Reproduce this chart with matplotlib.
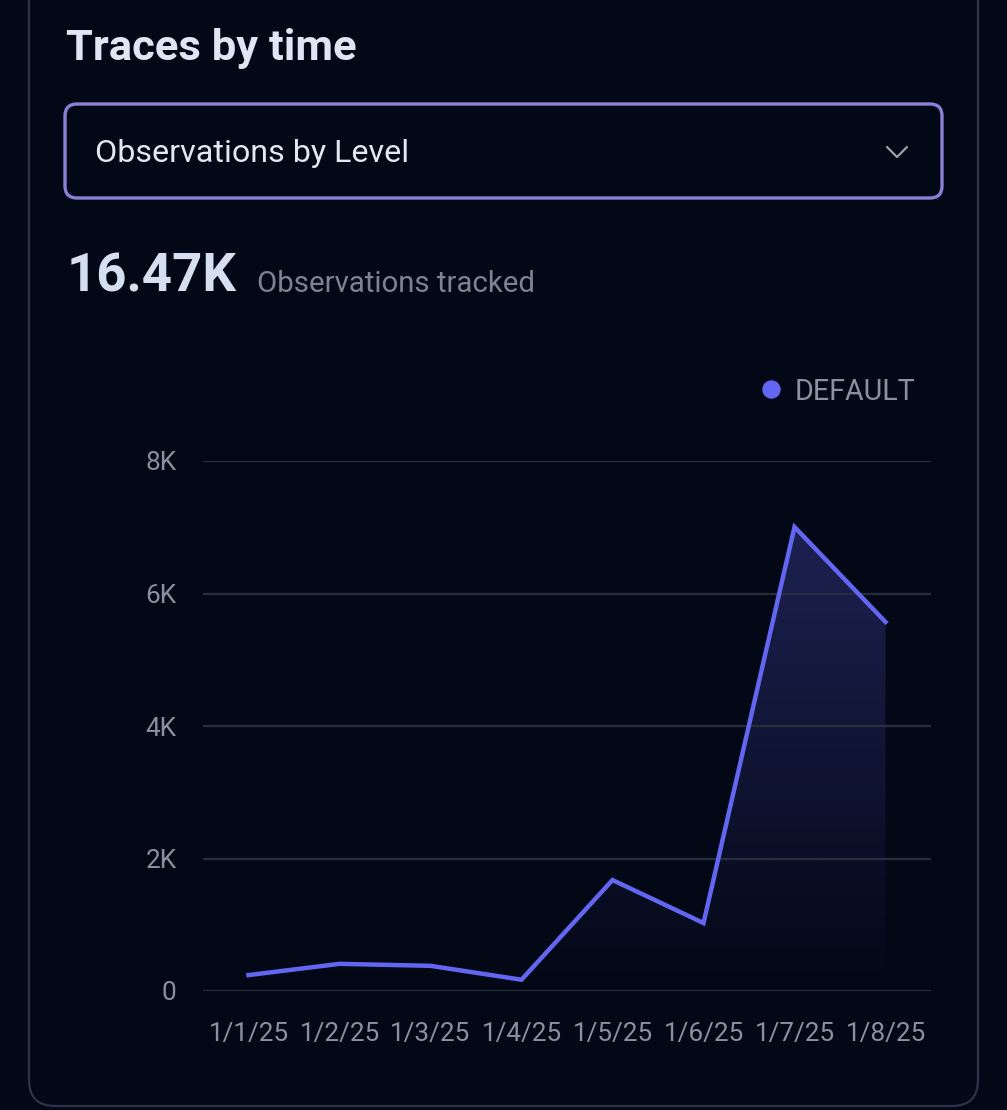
import matplotlib
matplotlib.use('Agg')
import matplotlib.pyplot as plt
import numpy as np
from matplotlib.patches import FancyBboxPatch

# data
dates = ['1/1/25', '1/2/25', '1/3/25', '1/4/25', '1/5/25', '1/6/25', '1/7/25', '1/8/25']
observations = [240, 410, 380, 170, 1675, 1026, 7004, 5570]
y_ticks = [0, 2000, 4000, 6000, 8000]
y_tick_labels = ['0', '2K', '4K', '6K', '8K']
series_name = 'DEFAULT'
total_label = '16.47K'

bg = '#030816'
line_col = '#6366f1'
grid_col = '#262d3d'
tick_col = '#8a909d'

plt.rcParams['font.family'] = ['Roboto', 'DejaVu Sans']

fig = plt.figure(figsize=(10.07, 11.1), dpi=100)
fig.patch.set_facecolor(bg)

# pixel-space layer for the card, header texts and dropdown
pa = fig.add_axes([0, 0, 1, 1])
pa.set_xlim(0, 1007)
pa.set_ylim(1110, 0)
pa.axis('off')

card = FancyBboxPatch((29, -60), 949, 1166, boxstyle='round,pad=0,rounding_size=26',
                      facecolor=bg, edgecolor='#2c3547', lw=1.6)
pa.add_patch(card)

pa.text(66, 60, 'Traces by time', fontsize=31.3, fontweight='semibold', color='#dfe6f1', va='baseline')

dd = FancyBboxPatch((65, 104), 877, 94, boxstyle='round,pad=0,rounding_size=12',
                    facecolor=bg, edgecolor='#8b80d6', lw=2.4)
pa.add_patch(dd)
pa.text(95, 162, 'Observations by Level', fontsize=23.2, color='#e3e8f0', va='baseline')
pa.plot([887, 897, 907], [147, 157, 147], color='#9aa0ab', lw=1.6, solid_capstyle='round')

pa.text(67, 292, total_label, fontsize=38, fontweight='bold', color='#d5dff0', va='baseline')
pa.text(257, 292, 'Observations tracked', fontsize=21.2, color='#7b8394', va='baseline')

pa.scatter([771], [389], s=150, color=line_col, zorder=3)
pa.text(795, 400, series_name, fontsize=20.6, color='#8b919e', va='baseline')

# chart
ax = fig.add_axes([203 / 1007, 1 - 991 / 1110, 728 / 1007, 530 / 1110])
ax.set_facecolor('none')
x = np.arange(len(dates))
ax.set_xlim(-0.5, len(dates) - 0.5)
ax.set_ylim(0, 8000)

# gradient area under the line
grad = np.linspace(0, 1, 256).reshape(-1, 1)
cmap = matplotlib.colors.LinearSegmentedColormap.from_list(
    'fade', [(0.39, 0.40, 0.95, 0.0), (0.39, 0.40, 0.95, 0.27)])
img = ax.imshow(grad, aspect='auto', cmap=cmap, origin='lower',
                extent=[x[0], x[-1], 0, max(observations)], zorder=1)
poly = ax.fill_between(x, observations, 0, color='none')
img.set_clip_path(poly.get_paths()[0], transform=ax.transData)

ax.plot(x, observations, color=line_col, lw=3.2, zorder=3, solid_joinstyle='miter')

ax.set_yticks(y_ticks)
ax.set_yticklabels(y_tick_labels)
ax.set_xticks(x)
ax.set_xticklabels(dates)
ax.grid(axis='y', color=grid_col, lw=1.6, zorder=2)
ax.set_axisbelow(False)
for s in ax.spines.values():
    s.set_visible(False)
ax.tick_params(length=0, colors=tick_col, labelsize=18.8)
ax.tick_params(axis='y', pad=19)
ax.tick_params(axis='x', pad=22)

fig.savefig('out.png', dpi=100, facecolor=bg)
